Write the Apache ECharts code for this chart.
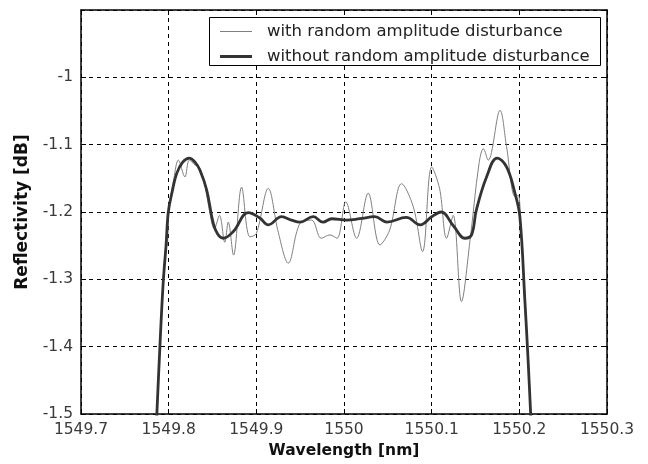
<!DOCTYPE html>
<html>
<head>
<meta charset="utf-8">
<script src="https://cdn.jsdelivr.net/npm/echarts@6/dist/echarts.min.js"></script>
<style>
html,body{margin:0;padding:0;background:#fff;}
#chart{width:648px;height:464px;}
</style>
</head>
<body>
<div id="chart"></div>
<script>
// ---- data ----
var seriesNames = ['with random amplitude disturbance', 'without random amplitude disturbance'];
var xTicks = [1549.7, 1549.8, 1549.9, 1550, 1550.1, 1550.2, 1550.3];
var yTicks = [-1.5, -1.4, -1.3, -1.2, -1.1, -1];

var wlThick = [1549.7855,1549.7900,1549.7938,1549.7970,1549.7996,1549.8040,1549.8091,1549.8160,1549.8235,1549.8300,1549.8357,1549.8433,1549.8509,1549.8560,1549.8623,1549.8737,1549.8908,1549.9040,1549.9136,1549.9288,1549.9400,1549.9497,1549.9650,1549.9760,1549.9860,1550.0030,1550.0180,1550.0350,1550.0490,1550.0710,1550.0870,1550.1000,1550.1110,1550.1245,1550.1380,1550.1455,1550.1510,1550.1626,1550.1747,1550.1854,1550.1950,1550.2006,1550.2063,1550.2100,1550.2140];
var reflThick = [-1.53,-1.40,-1.304,-1.25,-1.20,-1.17,-1.143,-1.126,-1.120,-1.126,-1.138,-1.167,-1.217,-1.233,-1.239,-1.229,-1.201,-1.209,-1.219,-1.207,-1.212,-1.215,-1.207,-1.215,-1.210,-1.212,-1.210,-1.207,-1.215,-1.208,-1.219,-1.207,-1.200,-1.220,-1.239,-1.234,-1.197,-1.148,-1.120,-1.133,-1.172,-1.207,-1.331,-1.42,-1.53];

var wlThin = [1549.7855,1549.7900,1549.7940,1549.7960,1549.7975,1549.7985,1549.8000,1549.8060,1549.8110,1549.8186,1549.8235,1549.8300,1549.8357,1549.8420,1549.8470,1549.8520,1549.8580,1549.8640,1549.8680,1549.8740,1549.8832,1549.8927,1549.9000,1549.9136,1549.9250,1549.9364,1549.9497,1549.9630,1549.9740,1549.9840,1549.9920,1550.0020,1550.0144,1550.0276,1550.0410,1550.0520,1550.0657,1550.0790,1550.0896,1550.1000,1550.1090,1550.1170,1550.1245,1550.1340,1550.1436,1550.1540,1550.1590,1550.1645,1550.1780,1550.1854,1550.1950,1550.1987,1550.2025,1550.2063,1550.2100,1550.2140];
var reflThin = [-1.53,-1.40,-1.30,-1.26,-1.245,-1.25,-1.20,-1.15,-1.123,-1.148,-1.123,-1.130,-1.135,-1.165,-1.202,-1.225,-1.205,-1.245,-1.215,-1.264,-1.163,-1.237,-1.232,-1.165,-1.230,-1.276,-1.217,-1.212,-1.239,-1.234,-1.239,-1.185,-1.239,-1.172,-1.249,-1.227,-1.158,-1.192,-1.259,-1.133,-1.165,-1.239,-1.205,-1.333,-1.244,-1.128,-1.106,-1.123,-1.049,-1.103,-1.177,-1.175,-1.242,-1.331,-1.42,-1.53];

function pairs(xs, ys){ return xs.map(function(x,i){ return [x, ys[i]]; }); }

var chart = echarts.init(document.getElementById('chart'), null, {renderer:'canvas'});
var FONT = 'DejaVu Sans, Verdana, sans-serif';
var frameLine = {show:true, lineStyle:{color:'#000', width:1.5}};
var gridDash = {show:true, lineStyle:{color:'#000', width:1, type:[4,4]}};

function xAxisDef(pos, main){
  return {
    type:'value', position:pos, min:xTicks[0], max:xTicks[xTicks.length-1], interval:0.1,
    axisLine:frameLine,
    axisTick:{show:true, inside:true, length:5, lineStyle:{color:'#000', width:1}},
    axisLabel:{show:main, color:'#3a3a3a', fontFamily:FONT, fontSize:15.5, margin:8,
      showMinLabel:true, showMaxLabel:true,
      formatter:function(v){ return String(Math.round(v*10)/10); }},
    splitLine: main ? gridDash : {show:false},
    name: main ? 'Wavelength [nm]' : '',
    nameLocation:'middle', nameGap:29,
    nameTextStyle:{color:'#111', fontFamily:FONT, fontWeight:'bold', fontSize:15.5}
  };
}
function yAxisDef(pos, main){
  return {
    type:'value', position:pos, min:-1.5, max:-0.9, interval:0.1,
    axisLine:frameLine,
    axisTick:{show:true, inside:true, length:5, lineStyle:{color:'#000', width:1}},
    axisLabel:{show:main, color:'#3a3a3a', fontFamily:FONT, fontSize:15.5, margin:8,
      showMaxLabel:false,
      formatter:function(v){ var r=Math.round(v*10)/10; return r > -0.95 ? '' : String(r); }},
    splitLine: main ? gridDash : {show:false},
    name: main ? 'Reflectivity [dB]' : '',
    nameLocation:'middle', nameGap:50, nameRotate:90,
    nameTextStyle:{color:'#111', fontFamily:FONT, fontWeight:'bold', fontSize:17}
  };
}

var iconThin = 'path://M0,0h0.01v0.01h-0.01z M0,6.5h32v1h-32z M31.99,13.99h0.01v0.01h-0.01z';
var iconThick = 'path://M0,0h0.01v0.01h-0.01z M0,5.6h32v2.8h-32z M31.99,13.99h0.01v0.01h-0.01z';

chart.setOption({
  animation:false,
  backgroundColor:'#fff',
  grid:{left:81, right:41, top:10, bottom:50, containLabel:false},
  xAxis:[xAxisDef('bottom', true), xAxisDef('top', false)],
  yAxis:[yAxisDef('left', true), yAxisDef('right', false)],
  graphic:[{
    type:'rect', left:209, top:17, shape:{width:391, height:48}, z:50,
    style:{fill:'#fff', stroke:'#000', lineWidth:1}
  }],
  legend:{
    orient:'vertical', left:209, top:17, z:60,
    padding:[6,10,6,11], itemGap:8, itemWidth:32, itemHeight:14,
    textStyle:{color:'#222', fontFamily:FONT, fontSize:16.5, padding:[0,0,0,10]},
    data:[{name:seriesNames[0], icon:iconThin}, {name:seriesNames[1], icon:iconThick}]
  },
  series:[
    {name:seriesNames[0], type:'line', data:pairs(wlThin, reflThin), symbol:'none', smooth:0.35,
     clip:true, lineStyle:{color:'#808080', width:1}, itemStyle:{color:'#808080'}, z:3},
    {name:seriesNames[1], type:'line', data:pairs(wlThick, reflThick), symbol:'none', smooth:0.4,
     clip:true, lineStyle:{color:'#333', width:2.8}, itemStyle:{color:'#333'}, z:4}
  ]
});
</script>
</body>
</html>
